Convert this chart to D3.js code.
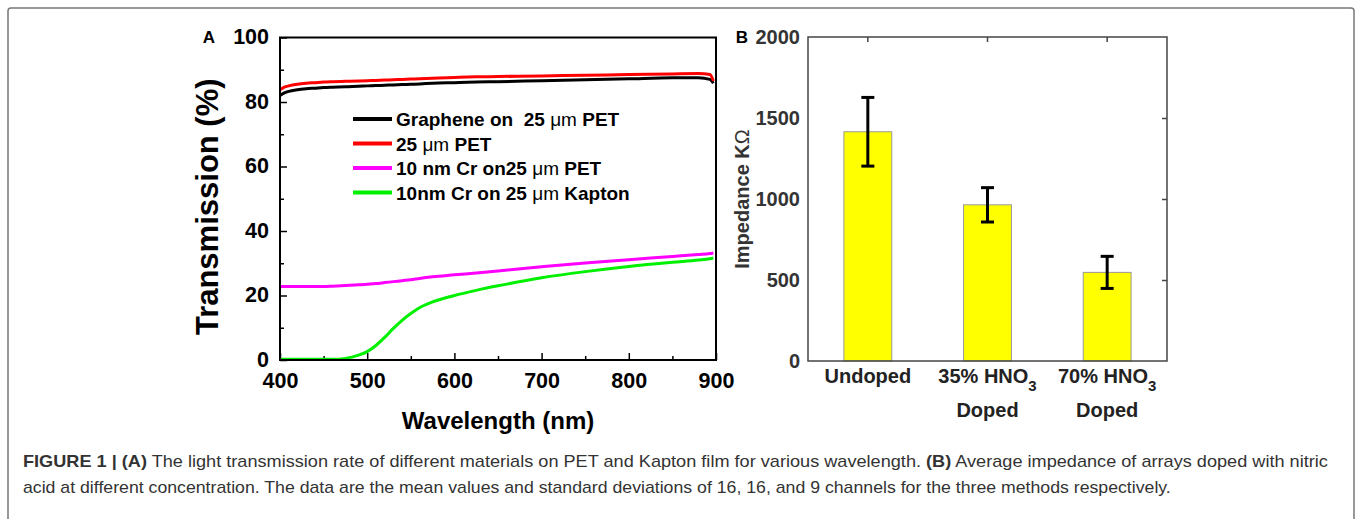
<!DOCTYPE html>
<html>
<head>
<meta charset="utf-8">
<script src="https://cdn.jsdelivr.net/npm/d3@7"></script>
<style>
  body { margin: 0; background: #fff; }
  svg { display: block; }
</style>
</head>
<body>
<div id="figure"></div>
<script>
// ---- Panel A data: transmission (%) vs wavelength (nm)
const wavelength = [400, 405, 410, 420, 430, 440, 450, 460, 475, 490, 500, 510, 520, 530, 540, 550, 560, 575, 600, 625, 650, 700, 750, 800, 850, 880, 893, 897];
const grapheneOnPet = [82.0, 82.8, 83.3, 83.8, 84.1, 84.3, 84.5, 84.6, 84.7, 84.9, 85.0, 85.1, 85.2, 85.3, 85.4, 85.5, 85.6, 85.8, 86.0, 86.2, 86.3, 86.6, 86.9, 87.2, 87.5, 87.5, 87.0, 85.8];
const pet25 = [83.8, 84.6, 85.0, 85.5, 85.8, 86.0, 86.2, 86.3, 86.4, 86.5, 86.6, 86.7, 86.8, 86.9, 87.0, 87.1, 87.2, 87.4, 87.6, 87.8, 87.9, 88.1, 88.3, 88.5, 88.7, 88.8, 88.5, 86.5];
const crOnPet = [22.8, 22.8, 22.8, 22.8, 22.8, 22.8, 22.8, 22.9, 23.1, 23.3, 23.5, 23.7, 24.0, 24.3, 24.6, 24.9, 25.3, 25.8, 26.4, 27.0, 27.6, 28.9, 30.1, 31.1, 32.1, 32.7, 33.0, 33.2];
const crOnKapton = [0.2, 0.2, 0.2, 0.2, 0.2, 0.2, 0.2, 0.2, 0.5, 1.5, 2.6, 4.5, 7.0, 9.8, 12.3, 14.4, 16.2, 18.0, 20.0, 21.6, 23.0, 25.5, 27.4, 29.0, 30.3, 31.0, 31.4, 31.6];

const seriesNames = ["Graphene on  25 \u03bcm PET", "25 \u03bcm PET", "10 nm Cr on25 \u03bcm PET", "10nm Cr on 25 \u03bcm Kapton"];
const seriesColors = ["#000000", "#ff0000", "#ff00ff", "#00f000"];
const seriesValues = [grapheneOnPet, pet25, crOnPet, crOnKapton];

const xTicksA = [400, 500, 600, 700, 800, 900];
const yTicksA = [0, 20, 40, 60, 80, 100];

// ---- Panel B data: impedance (kOhm)
const groups = ["Undoped", "35% HNO3", "70% HNO3"];
const groupLine1 = ["Undoped", "35% HNO", "70% HNO"];
const groupSub = ["", "3", "3"];
const groupLine2 = ["", "Doped", "Doped"];
const impedanceMean = [1415, 964, 547];
const impedanceSD = [212, 106, 99];
const yTicksB = [0, 500, 1000, 1500, 2000];

const captionLine1 = [
  { t: "FIGURE 1 | (A)", b: true },
  { t: " The light transmission rate of different materials on PET and Kapton film for various wavelength. ", b: false },
  { t: "(B)", b: true },
  { t: " Average impedance of arrays doped with nitric", b: false }
];
const captionLine2 = "acid at different concentration. The data are the mean values and standard deviations of 16, 16, and 9 channels for the three methods respectively.";

const W = 1357, H = 519;
const FONT = "'Liberation Sans', Arial, sans-serif";

const svg = d3.select("#figure").append("svg")
  .attr("width", W)
  .attr("height", H)
  .style("font-family", FONT);

// frame around the whole figure
svg.append("rect")
  .attr("x", 8).attr("y", 8)
  .attr("width", 1346).attr("height", 530)
  .attr("rx", 3)
  .attr("fill", "none")
  .attr("stroke", "#777")
  .attr("stroke-width", 1.5);

// ================= Panel A =================
const a = { left: 280, right: 716, top: 37.5, bottom: 360 };
const xA = d3.scaleLinear().domain([400, 900]).range([a.left, a.right]);
const yA = d3.scaleLinear().domain([0, 100]).range([a.bottom, a.top]);

const gA = svg.append("g");

// minor ticks
gA.append("g")
  .attr("transform", `translate(0,${a.bottom})`)
  .call(d3.axisBottom(xA).tickValues([450, 550, 650, 750, 850]).tickSize(-4).tickFormat(""))
  .call(g => g.select(".domain").remove())
  .call(g => g.selectAll("line").attr("stroke", "#000").attr("stroke-width", 1.5));
gA.append("g")
  .attr("transform", `translate(${a.left},0)`)
  .call(d3.axisLeft(yA).tickValues([10, 30, 50, 70, 90]).tickSize(-4).tickFormat(""))
  .call(g => g.select(".domain").remove())
  .call(g => g.selectAll("line").attr("stroke", "#000").attr("stroke-width", 1.5));

// major ticks + labels
gA.append("g")
  .attr("transform", `translate(0,${a.bottom})`)
  .call(d3.axisBottom(xA).tickValues(xTicksA).tickSizeInner(-7).tickSizeOuter(0).tickPadding(13))
  .call(g => g.select(".domain").remove())
  .call(g => g.selectAll("line").attr("stroke", "#000").attr("stroke-width", 1.5))
  .call(g => g.selectAll("text")
    .attr("fill", "#000")
    .style("font-family", FONT)
    .style("font-size", "21.5px")
    .style("font-weight", "bold"));
gA.append("g")
  .attr("transform", `translate(${a.left},0)`)
  .call(d3.axisLeft(yA).tickValues(yTicksA).tickSizeInner(-7).tickSizeOuter(0).tickPadding(11))
  .call(g => g.select(".domain").remove())
  .call(g => g.selectAll("line").attr("stroke", "#000").attr("stroke-width", 1.5))
  .call(g => g.selectAll("text")
    .attr("fill", "#000")
    .attr("dy", "0.3em")
    .style("font-family", FONT)
    .style("font-size", "21.5px")
    .style("font-weight", "bold"));

// curves
const lineA = d3.line()
  .x((d, i) => xA(wavelength[i]))
  .y(d => yA(d))
  .curve(d3.curveMonotoneX);

gA.selectAll(".curve")
  .data(seriesValues)
  .enter().append("path")
  .attr("class", "curve")
  .attr("d", lineA)
  .attr("fill", "none")
  .attr("stroke", (d, i) => seriesColors[i])
  .attr("stroke-width", 3);

// plot box
gA.append("rect")
  .attr("x", a.left).attr("y", a.top)
  .attr("width", a.right - a.left).attr("height", a.bottom - a.top)
  .attr("fill", "none")
  .attr("stroke", "#000")
  .attr("stroke-width", 2);

// legend
const legend = gA.append("g").attr("transform", "translate(353,119)");
seriesNames.forEach((name, i) => {
  const row = legend.append("g").attr("transform", `translate(0,${i * 24.5})`);
  row.append("line")
    .attr("x1", 0).attr("x2", 39)
    .attr("stroke", seriesColors[i])
    .attr("stroke-width", 4);
  const txt = row.append("text")
    .attr("x", 43).attr("y", 7)
    .style("white-space", "pre")
    .style("font-size", "19px")
    .style("font-weight", "bold");
  name.split(/(\u03bcm)/).forEach(part => {
    const ts = txt.append("tspan").text(part);
    if (part === "\u03bcm") ts.style("font-weight", "normal");
  });
});

// axis titles
gA.append("text")
  .attr("x", (a.left + a.right) / 2)
  .attr("y", 429)
  .attr("text-anchor", "middle")
  .style("font-size", "24px")
  .style("font-weight", "bold")
  .text("Wavelength (nm)");

gA.append("text")
  .attr("transform", `translate(218,${(a.top + a.bottom) / 2 + 8}) rotate(-90)`)
  .attr("text-anchor", "middle")
  .style("font-size", "31px")
  .style("font-weight", "bold")
  .text("Transmission (%)");

gA.append("text")
  .attr("x", 209).attr("y", 43)
  .attr("text-anchor", "middle")
  .style("font-size", "17px")
  .style("font-weight", "bold")
  .text("A");

// ================= Panel B =================
const b = { left: 808, right: 1167, top: 37, bottom: 361 };
const xB = d3.scaleBand().domain(groups).range([b.left, b.right]).padding(0);
const yB = d3.scaleLinear().domain([0, 2000]).range([b.bottom, b.top]);
const barW = xB.bandwidth() * 0.4;
const axisGray = "#333";

const gB = svg.append("g");

// left axis labels
gB.append("g")
  .attr("transform", `translate(${b.left},0)`)
  .call(d3.axisLeft(yB).tickValues(yTicksB).tickFormat(d3.format("d")).tickSize(0).tickPadding(8))
  .call(g => g.select(".domain").remove())
  .call(g => g.selectAll("text")
    .attr("fill", axisGray)
    .style("font-family", FONT)
    .style("font-size", "20px")
    .style("font-weight", "bold"));

// right mirror ticks
gB.append("g")
  .attr("transform", `translate(${b.right},0)`)
  .call(d3.axisRight(yB).tickValues([500, 1000, 1500]).tickSize(-5).tickFormat(""))
  .call(g => g.select(".domain").remove())
  .call(g => g.selectAll("line").attr("stroke", "#444").attr("stroke-width", 1.5));

// top mirror ticks at bar centres
gB.append("g")
  .attr("transform", `translate(0,${b.top})`)
  .call(d3.axisTop(xB).tickSize(-5).tickFormat(""))
  .call(g => g.select(".domain").remove())
  .call(g => g.selectAll("line").attr("stroke", "#444").attr("stroke-width", 1.5));

// bars
gB.selectAll(".bar")
  .data(groups)
  .enter().append("rect")
  .attr("class", "bar")
  .attr("x", d => xB(d) + (xB.bandwidth() - barW) / 2)
  .attr("y", (d, i) => yB(impedanceMean[i]))
  .attr("width", barW)
  .attr("height", (d, i) => yB(0) - yB(impedanceMean[i]))
  .attr("fill", "#ffff00")
  .attr("stroke", "#999")
  .attr("stroke-width", 1);

// error bars
const err = gB.selectAll(".err")
  .data(groups)
  .enter().append("g")
  .attr("class", "err")
  .attr("transform", d => `translate(${xB(d) + xB.bandwidth() / 2},0)`);
err.append("line")
  .attr("y1", (d, i) => yB(impedanceMean[i] + impedanceSD[i]))
  .attr("y2", (d, i) => yB(impedanceMean[i] - impedanceSD[i]))
  .attr("stroke", "#000").attr("stroke-width", 3);
[1, -1].forEach(s => {
  err.append("line")
    .attr("x1", -6.5).attr("x2", 6.5)
    .attr("y1", (d, i) => yB(impedanceMean[i] + s * impedanceSD[i]))
    .attr("y2", (d, i) => yB(impedanceMean[i] + s * impedanceSD[i]))
    .attr("stroke", "#000").attr("stroke-width", 3);
});

// plot box
gB.append("rect")
  .attr("x", b.left).attr("y", b.top)
  .attr("width", b.right - b.left).attr("height", b.bottom - b.top)
  .attr("fill", "none")
  .attr("stroke", "#444")
  .attr("stroke-width", 1.5);

// category labels
groups.forEach((g, i) => {
  const cx = xB(g) + xB.bandwidth() / 2;
  const t = gB.append("text")
    .attr("x", cx).attr("y", b.bottom + 22)
    .attr("text-anchor", "middle")
    .attr("fill", "#222")
    .style("font-size", "20px")
    .style("font-weight", "bold");
  t.append("tspan").text(groupLine1[i]);
  if (groupSub[i]) {
    t.append("tspan").attr("dy", 8).style("font-size", "15px").text(groupSub[i]);
  }
  if (groupLine2[i]) {
    gB.append("text")
      .attr("x", cx).attr("y", b.bottom + 56)
      .attr("text-anchor", "middle")
      .attr("fill", "#222")
      .style("font-size", "20px")
      .style("font-weight", "bold")
      .text(groupLine2[i]);
  }
});

gB.append("text")
  .attr("transform", `translate(749,${(b.top + b.bottom) / 2}) rotate(-90)`)
  .attr("text-anchor", "middle")
  .attr("fill", axisGray)
  .style("font-size", "20px")
  .style("font-weight", "bold")
  .call(t => {
    t.append("tspan").text("Impedance K");
    t.append("tspan").style("font-weight", "normal").text("\u03a9");
  });

gB.append("text")
  .attr("x", 742).attr("y", 43)
  .attr("text-anchor", "middle")
  .style("font-size", "17px")
  .style("font-weight", "bold")
  .text("B");

// ================= Caption =================
function fitWidth(sel, target) {
  const w = sel.node().getComputedTextLength();
  const x0 = +sel.attr("x");
  sel.attr("transform", `translate(${x0},0) scale(${target / w},1) translate(${-x0},0)`);
}
const cap1 = svg.append("text")
  .attr("x", 23).attr("y", 467)
  .attr("fill", "#333")
  .style("font-size", "16px");
captionLine1.forEach(p => cap1.append("tspan").style("font-weight", p.b ? "bold" : "normal").text(p.t));
fitWidth(cap1, 1306);

const cap2 = svg.append("text")
  .attr("x", 23).attr("y", 493)
  .attr("fill", "#333")
  .style("font-size", "16px")
  .text(captionLine2);
fitWidth(cap2, 1149);
</script>
</body>
</html>
